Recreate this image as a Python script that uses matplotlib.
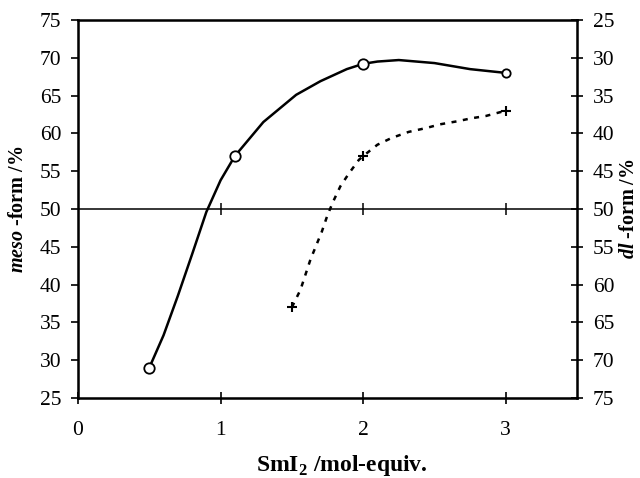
"""meso/dl ratio vs SmI2 equivalents."""
import matplotlib
matplotlib.use("Agg")
import matplotlib.pyplot as plt

plt.rcParams["font.family"] = ["Liberation Serif", "DejaVu Serif"]
plt.rcParams["mathtext.fontset"] = "custom"
plt.rcParams["mathtext.rm"] = "Liberation Serif"
plt.rcParams["mathtext.bf"] = "Liberation Serif:bold"
plt.rcParams["mathtext.bfit"] = "Liberation Serif:bold:italic"

# measured points (markers)
meso_x = [0.5, 1.1, 2.0, 3.0]
meso_y = [29.0, 57.0, 69.2, 68.0]
dl_x = [1.5, 2.0, 3.0]
dl_y = [37.0, 57.0, 63.0]

# traced smoothed curves
meso_curve_x = [0.5, 0.6, 0.7, 0.8, 0.9, 0.95, 1.0, 1.1, 1.14, 1.3, 1.53, 1.7, 1.885, 2.0,
                2.1, 2.25, 2.5, 2.75, 3.0]
meso_curve_y = [29.0, 33.3, 38.5, 44.0, 49.6, 51.7, 53.8, 57.0, 57.9, 61.5, 65.1, 66.9, 68.5, 69.2,
                69.5, 69.7, 69.3, 68.5, 68.0]
dl_curve_x = [1.5, 1.56, 1.63, 1.71, 1.75, 1.79, 1.84, 1.9, 1.97, 2.0, 2.1, 2.2, 2.32,
              2.44, 2.54, 2.66, 2.76, 2.86, 3.0]
dl_curve_y = [37.0, 39.3, 43.3, 47.0, 49.2, 51.0, 53.0, 54.7, 56.5, 57.0, 58.5, 59.4, 60.2,
              60.7, 61.2, 61.6, 62.0, 62.3, 63.0]

xticks = [0, 1, 2, 3]
yticks = list(range(25, 80, 5))

fig = plt.figure(figsize=(6.4, 4.78), dpi=100)
ax = fig.add_axes([0.1219, 0.1674, 0.7797, 0.7908])

ax.axhline(50, color="black", lw=1.1, zorder=1)
ax.plot(xticks[1:], [50] * 3, ls="none", marker="|", ms=9, mew=1.1, color="black")

ax.plot(meso_curve_x, meso_curve_y, color="black", lw=1.8, zorder=2)
ax.plot(dl_curve_x, dl_curve_y, color="black", lw=1.8, ls=(0, (2.0, 2.6)), zorder=2)
ax.plot(meso_x[:3], meso_y[:3], ls="none", marker="o", ms=7.5, mfc="white", mec="black",
        mew=1.3, zorder=3)
ax.plot(meso_x[3:], meso_y[3:], ls="none", marker="o", ms=6, mfc="white", mec="black",
        mew=1.3, zorder=3)
ax.plot(dl_x, dl_y, ls="none", marker="+", ms=7, mew=1.5, color="black", zorder=3)

ax.set_xlim(0, 3.5)
ax.set_ylim(25, 75)
ax.set_xticks(xticks)
ax.set_yticks(yticks)
for s in ax.spines.values():
    s.set_linewidth(1.8)
ax.tick_params(axis="x", direction="inout", length=9, width=1.2, labelsize=15.5, pad=12)
ax.tick_params(axis="y", direction="out", length=5, width=1.2, labelsize=15.5, pad=7)

ax2 = ax.twinx()
ax2.set_ylim(75, 25)
ax2.set_yticks(yticks)
ax2.tick_params(axis="y", direction="inout", length=9, width=1.2, labelsize=15.5, pad=7)

lab = dict(fontweight="bold", ha="center", va="center")
fig.text(18 / 640, 1 - 209 / 478, r"$\mathbfit{meso}$ -form /%", rotation=90,
         fontsize=14.5, **lab)
fig.text(629 / 640, 1 - 209 / 478, r"$\mathbfit{dl}$ -form /%", rotation=90,
         fontsize=14.5, **lab)
fig.text(342 / 640, 1 - 465 / 478, r"SmI$_\mathbf{2}$ /mol-equiv.", fontsize=17, **lab)

fig.savefig("out.png", dpi=100)
